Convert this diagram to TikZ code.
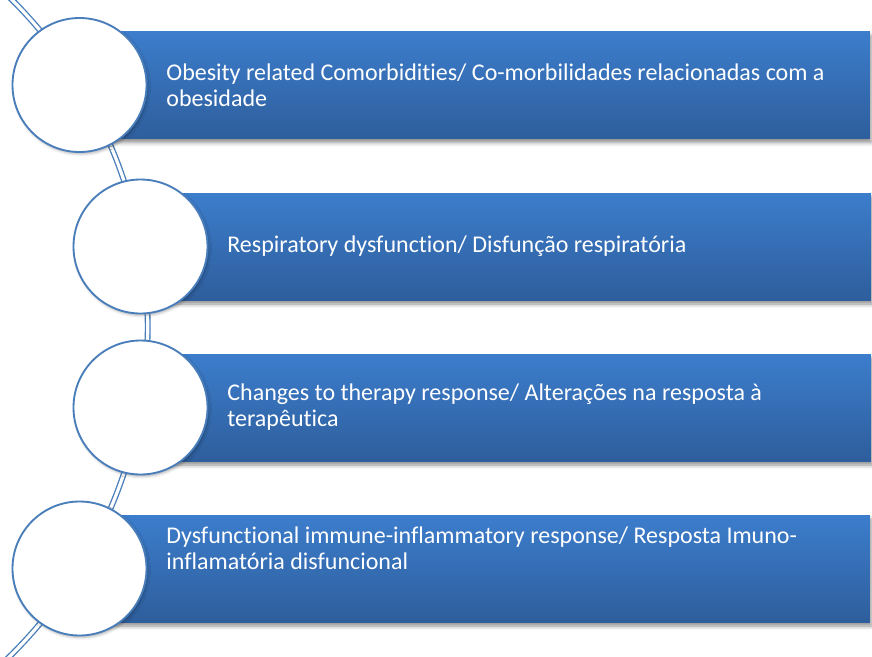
\documentclass[tikz,border=0pt]{standalone}
\usepackage{fontspec}
\setmainfont{Carlito}[Ligatures=NoCommon]
\usetikzlibrary{positioning, shadows.blur}

\definecolor{barTop}{HTML}{3C7DCC}
\definecolor{barBot}{HTML}{2E5E9C}
\definecolor{ringBlue}{HTML}{4A7EBB}

\begin{document}
\begin{tikzpicture}[
  x=0.75pt, y=-0.75pt,
  bar/.style={rectangle, anchor=west, minimum height=80.25pt, top color=barTop, bottom color=barBot,
    blur shadow={shadow xshift=1pt, shadow yshift=-3pt, shadow blur radius=3pt, shadow opacity=45}},
  ring/.style={circle, draw=ringBlue, line width=1.4pt, fill=white, minimum size=100.5pt, inner sep=0pt,
    blur shadow={shadow xshift=1pt, shadow yshift=-1.5pt, shadow blur radius=2pt, shadow opacity=30}},
  bartext/.style={text=white, anchor=west, align=left, inner sep=0pt, font=\fontsize{18}{19.5}\selectfont},
  spine/.style={draw=ringBlue, double=white, line width=1pt, double distance=2.4pt}
]
\useasboundingbox (0,0) rectangle (872,657);

% centres of the four discs
\coordinate (p1) at (79.5,85);
\coordinate (p2) at (140.5,246.5);
\coordinate (p3) at (140.5,407.5);
\coordinate (p4) at (79.5,568.5);
\coordinate (hub) at (-314.5,327);

% curved spine behind everything
\draw[spine] (hub) ++(-46:462.2) arc[start angle=-46, end angle=46, radius=462.2];

% bars
\node[bar, minimum width=592.5pt] (b1) at (p1) {};
\node[bar, minimum width=547.5pt] (b2) at (p2) {};
\node[bar, minimum width=547.5pt] (b3) at (p3) {};
\node[bar, minimum width=592.5pt] (b4) at (p4) {};

% discs
\node[ring] (c1) at (p1) {};
\node[ring] (c2) at (p2) {};
\node[ring] (c3) at (p3) {};
\node[ring] (c4) at (p4) {};

% texts
\node[bartext, right=14pt of c1] (t1) {Obesity related Comorbidities/ Co-morbilidades relacionadas com a\\obesidade};
\node[bartext, right=14pt of c2] (t2) {Respiratory dysfunction/ Disfunção respiratória};
\node[bartext, right=14pt of c3] (t3) {Changes to therapy response/ Alterações na resposta à\\terapêutica};
\node[bartext, right=14pt of c4, yshift=15pt] (t4) {Dysfunctional immune-inflammatory response/ Resposta Imuno-\\inflamatória disfuncional};
\end{tikzpicture}
\end{document}
